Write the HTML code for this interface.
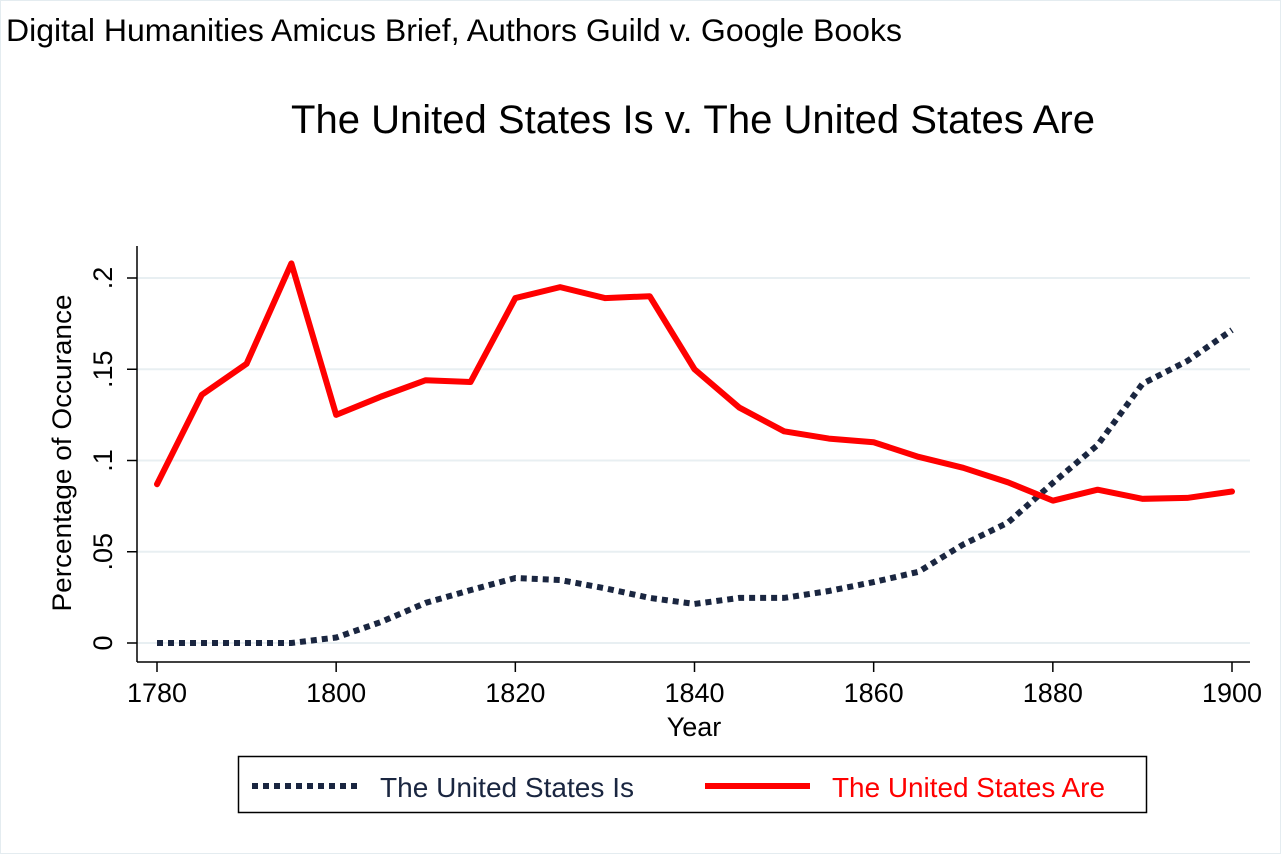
<!DOCTYPE html>
<html><head><meta charset="utf-8"><style>
body{margin:0;background:#fff;}
svg{display:block;font-family:"Liberation Sans",Arial,sans-serif;}
</style></head><body>
<svg id="chart" width="1281" height="854" viewBox="0 0 1281 854">
<rect x="0.5" y="0.5" width="1280" height="853" fill="#fff" stroke="#e4ecf0"/>
<text x="6" y="41" font-size="31.5" fill="#000" textLength="896" lengthAdjust="spacingAndGlyphs">Digital Humanities Amicus Brief, Authors Guild v. Google Books</text>
<text x="693" y="133" font-size="40" text-anchor="middle" fill="#000" textLength="804" lengthAdjust="spacingAndGlyphs">The United States Is v. The United States Are</text>
<g id="grid"></g>
<g id="axes"></g>
<g id="series"></g>
<text x="694" y="736" font-size="27" text-anchor="middle">Year</text>
<text transform="translate(71,453) rotate(-90)" font-size="27" text-anchor="middle" textLength="317" lengthAdjust="spacingAndGlyphs">Percentage of Occurance</text>
<g>
<rect x="238.5" y="756.5" width="908" height="56" fill="#fff" stroke="#000" stroke-width="1.5"/>
<line x1="252" y1="786" x2="358" y2="786" stroke="#1a2640" stroke-width="6" stroke-dasharray="6,5"/>
<text x="380" y="797" font-size="28" fill="#1a2640" textLength="254" lengthAdjust="spacingAndGlyphs">The United States Is</text>
<line x1="705" y1="786" x2="810" y2="786" stroke="#ff0000" stroke-width="6"/>
<text x="832" y="797" font-size="28" fill="#ff0000" textLength="273" lengthAdjust="spacingAndGlyphs">The United States Are</text>
</g>
</svg>
<script>
const years=[1780,1785,1790,1795,1800,1805,1810,1815,1820,1825,1830,1835,1840,1845,1850,1855,1860,1865,1870,1875,1880,1885,1890,1895,1900];
const seriesAre=[.087,.136,.153,.208,.125,.135,.144,.143,.189,.195,.189,.190,.150,.129,.116,.112,.110,.102,.096,.088,.078,.084,.079,.0795,.083];
const seriesIs=[0,0,0,0,.003,.0115,.022,.029,.0356,.0345,.030,.0247,.0214,.0247,.0247,.0285,.0334,.039,.054,.066,.0877,.1085,.142,.1545,.1715];
const xTicks=[1780,1800,1820,1840,1860,1880,1900];
const yTicks=[0,.05,.1,.15,.2];
const yTickLabels=["0",".05",".1",".15",".2"];
const NS="http://www.w3.org/2000/svg";
const xs=v=>157+(v-1780)*(1232-157)/120;
const ys=v=>643-v*(643-278)/0.2;
function mk(tag,attrs,parent){const e=document.createElementNS(NS,tag);for(const k in attrs)e.setAttribute(k,attrs[k]);parent.appendChild(e);return e;}
const grid=document.getElementById('grid'),axes=document.getElementById('axes'),ser=document.getElementById('series');
yTicks.forEach((t,i)=>{
 const g=mk('line',{x1:137,x2:1250,y1:ys(t),y2:ys(t),stroke:'#e8eff2','stroke-width':2},grid);
 
 
 const tk=mk('line',{x1:127,x2:137,y1:ys(t),y2:ys(t),stroke:'#000','stroke-width':1.5},axes);
 
 
 const tx=mk('text',{transform:`translate(112,${ys(t)}) rotate(-90)`,'font-size':27,'text-anchor':'middle'},axes);
 
 
 tx.textContent=yTickLabels[i];
});
const la=mk('line',{x1:137,x2:137,y1:246,y2:662,stroke:'#000','stroke-width':1.5},axes);


const ba=mk('line',{x1:137,x2:1250,y1:662,y2:662,stroke:'#000','stroke-width':1.5},axes);


xTicks.forEach(t=>{
 const tk=mk('line',{x1:xs(t),x2:xs(t),y1:662,y2:672,stroke:'#000','stroke-width':1.5},axes);
 
 
 const tx=mk('text',{x:xs(t),y:702,'font-size':27,'text-anchor':'middle'},axes);
 
 
 tx.textContent=t;
});
const pIs=mk('polyline',{points:years.map((y,i)=>xs(y)+','+ys(seriesIs[i])).join(' '),fill:'none',stroke:'#1a2640','stroke-width':6,'stroke-dasharray':'6,5'},ser);


const pAre=mk('polyline',{points:years.map((y,i)=>xs(y)+','+ys(seriesAre[i])).join(' '),fill:'none',stroke:'#ff0000','stroke-width':6,'stroke-linejoin':'round','stroke-linecap':'round'},ser);


</script>
</body></html>
